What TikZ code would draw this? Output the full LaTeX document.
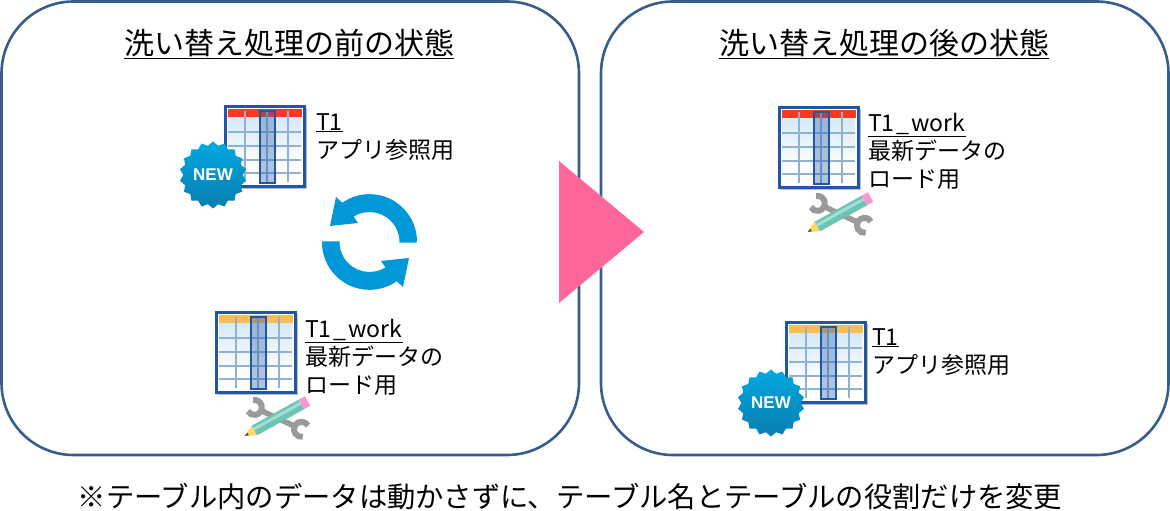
\documentclass[tikz,border=0pt]{standalone}
\usepackage{fontspec}
\setmainfont{Noto Sans CJK JP}
\newfontfamily\badgefont{Liberation Sans}
\usetikzlibrary{shapes.geometric}
\definecolor{framecol}{HTML}{385D8A}
\definecolor{cyclecol}{HTML}{0098D8}
\definecolor{pinkcol}{HTML}{FF6699}
\definecolor{tablecol}{HTML}{1F56A5}
\definecolor{gridcol}{HTML}{8FB2D2}
\definecolor{redhead}{HTML}{F93A20}
\definecolor{orangehead}{HTML}{F6BE50}
\definecolor{celltop}{HTML}{CFE6F6}
\definecolor{badgetop}{HTML}{00A9E2}
\definecolor{badgebot}{HTML}{0A7DAE}
\definecolor{penbody}{HTML}{6CC4B5}
\definecolor{penlight}{HTML}{A5DDD2}
\definecolor{wrenchcol}{HTML}{9A9A9A}
\tikzset{
  frame/.style={draw=framecol,line width=2.6pt,rounded corners=72pt},
  title/.style={font=\fontsize{30}{36}\selectfont,inner sep=0pt},
  lbl/.style={font=\fontsize{23}{27.5}\selectfont,align=left,anchor=north west,inner sep=0pt},
  newbadge/.style={star,star points=18,star point ratio=1.13,minimum size=67pt,inner sep=0pt,
    top color=badgetop,bottom color=badgebot,text=white,
    font=\badgefont\bfseries\fontsize{17}{17}\selectfont}
}
\newcommand{\workname}{\underline{T1\kern2pt\_\kern2pt work}}
\newcommand{\tablepic}[3]{
\begin{scope}[shift={(#1,#2)}]
\fill [black!25] (2,-83) rectangle (83,-2);
\draw [tablecol,line width=3pt,fill=white] (1,-1) rectangle (80,-81);
\shade [top color=celltop,bottom color=white] (4,-4) rectangle (77,-60);
\fill [#3] (3.5,-3.5) rectangle (77.5,-11);
\foreach \y in {-26,-40,-54,-67}
{\draw [gridcol,line width=1.8pt] (4,\y) -- (77,\y);}
\foreach \x in {21,43,64}
{\draw [gridcol,line width=1.8pt] (\x,-5) -- (\x,-76);}
\filldraw [draw=tablecol,fill=tablecol,fill opacity=.35,line width=2pt] (36,-5) rectangle (51,-77);
\end{scope}
}
\newcommand{\toolpic}[2]{
\begin{scope}[shift={(#1,#2)}]
\begin{scope}[rotate=-25]
\draw [wrenchcol,line width=5.5pt] (-17,0) -- (19,0);
\draw [wrenchcol,line width=6pt] (-25,0) ++(125:7.5) arc (125:-125:7.5);
\draw [wrenchcol,line width=6pt] (27,0) ++(55:7.5) arc (55:305:7.5);
\end{scope}
\begin{scope}[rotate=29]
\fill [penbody] (-26,-5.5) rectangle (28,5.5);
\fill [penlight] (-26,0) rectangle (28,3);
\fill [orange!50!yellow!60] (-26,-5.5) -- (-37,0) -- (-26,5.5) -- cycle;
\fill [black!70] (-33,-1.5) -- (-37,0) -- (-33,1.5) -- cycle;
\fill [magenta!40] (28,-5.5) rectangle (35,5.5);
\end{scope}
\end{scope}
}
\begin{document}
\begin{tikzpicture}[x=1pt,y=1pt]
\useasboundingbox (0,0) rectangle (1170,511);

\draw [frame] (1.5,56) rectangle (579,509.5);
\draw [frame] (601,56) rectangle (1168.5,509.5);
\fill [pinkcol] (559,350) -- (644,279) -- (559,208) -- cycle;

\node (titleBefore) [title] at (289,467) {\underline{洗い替え処理の前の状態}};
\node (titleAfter) [title] at (884,467) {\underline{洗い替え処理の後の状態}};

\tablepic{224}{405}{redhead}
\tablepic{215}{199}{orangehead}
\tablepic{778}{404}{redhead}
\tablepic{785}{189}{orangehead}

\node (newBefore) [newbadge] at (213,336) {NEW};
\node (newAfter) [newbadge] at (771,108) {NEW};

\toolpic{277}{93}
\toolpic{840}{297}

\foreach \r in {0,180}{
\fill [cyclecol,rotate around={\r:(369.5,269)}] (417,268.5) arc (-1:125:47.5)
  -- (336,314) -- (330,285) -- (358,288) -- (353.6,294.4) arc (122:-1:30) -- cycle;
}

\node (lblAppBefore) [lbl] at (316,398) {\underline{T1}\\[.6pt]アプリ参照用};
\node (lblWorkBefore) [lbl] at (305,192) {\workname\\[.6pt]最新データの\\[.6pt]ロード用};
\node (lblWorkAfter) [lbl] at (868,398) {\workname\\[.6pt]最新データの\\[.6pt]ロード用};
\node (lblAppAfter) [lbl] at (872,183) {\underline{T1}\\[.6pt]アプリ参照用};

\node (noteText) [font=\fontsize{28.3}{34}\selectfont,inner sep=0pt] at (570,14)
  {※テーブル内のデータは動かさずに、テーブル名とテーブルの役割だけを変更};
\end{tikzpicture}
\end{document}
